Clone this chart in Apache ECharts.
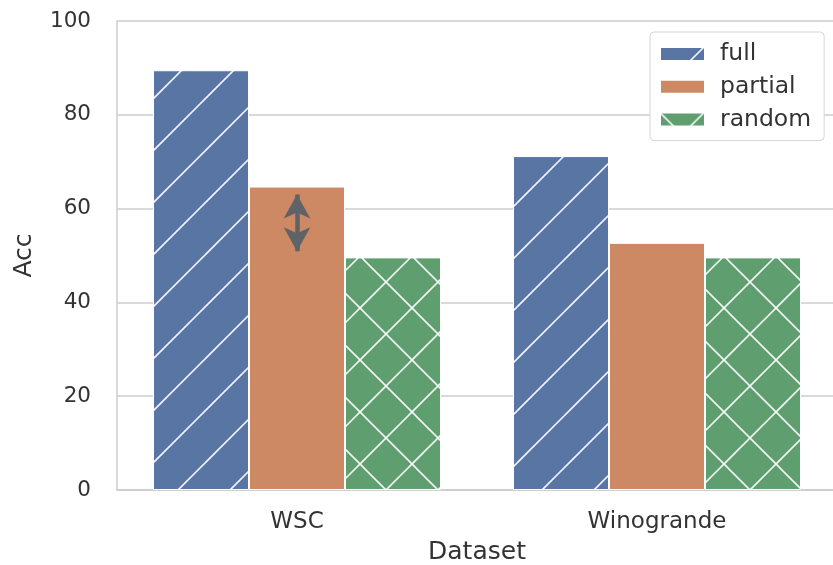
<!DOCTYPE html>
<html>
<head>
<meta charset="utf-8">
<script src="https://cdn.jsdelivr.net/npm/echarts@6/dist/echarts.min.js"></script>
<style>html,body{margin:0;padding:0;background:#fff;}#c{width:833px;height:565px;}</style>
</head>
<body>
<div id="c"></div>
<script>
var categories = ['WSC', 'Winogrande'];
var seriesNames = ['full', 'partial', 'random'];
var fullVals = [89.5, 71.2];
var partialVals = [64.7, 52.7];
var randomVals = [49.6, 49.6];
var yTicks = [0, 20, 40, 60, 80, 100];
var arrowRange = [63.0, 50.9]; // double-headed arrow on WSC partial

var FONT = 'DejaVu Sans';
var TXT = '#333333';

function makePattern(base, kind) {
  var s = 52;
  var c = document.createElement('canvas');
  c.width = s; c.height = s;
  var g = c.getContext('2d');
  g.fillStyle = base;
  g.fillRect(0, 0, s, s);
  g.strokeStyle = 'rgba(255,255,255,0.92)';
  g.lineWidth = 1.6;
  var k, off;
  if (kind === '/' || kind === 'x') {
    for (k = -1; k <= 2; k++) {
      off = 44 + s * k;
      g.beginPath(); g.moveTo(off + 20, -20); g.lineTo(-20, off + 20); g.stroke();
    }
  }
  if (kind === 'x') {
    for (k = -2; k <= 1; k++) {
      off = s * k;
      g.beginPath(); g.moveTo(off - 20, -20); g.lineTo(off + s + 20, s + 20); g.stroke();
    }
  }
  return { image: c, repeat: 'repeat' };
}

var colors = ['#5975a4', '#cc8963', '#5f9e6e'];
var pats = [makePattern(colors[0], '/'), colors[1], makePattern(colors[2], 'x')];
var valsList = [fullVals, partialVals, randomVals];

var chart = echarts.init(document.getElementById('c'), null, { renderer: 'canvas' });

var series = seriesNames.map(function (n, i) {
  var s = {
    name: n,
    type: 'bar',
    data: valsList[i],
    barGap: '0%',
    barCategoryGap: '20%',
    itemStyle: { color: pats[i], borderColor: '#ffffff', borderWidth: 1 },
    emphasis: { disabled: true }
  };
  if (n === 'partial') {
    s.markLine = {
      silent: true,
      symbol: ['arrow', 'arrow'],
      symbolSize: [20, 24],
      label: { show: false },
      lineStyle: { color: '#5f6266', width: 4.5, type: 'solid' },
      data: [[{ coord: [categories[0], arrowRange[0]] }, { coord: [categories[0], arrowRange[1]] }]]
    };
  }
  return s;
});

chart.setOption({
  animation: false,
  backgroundColor: '#ffffff',
  grid: { left: 117, top: 21, bottom: 75, right: -4, containLabel: false, outerBoundsMode: 'none' },
  legend: {
    orient: 'vertical',
    left: 650, top: 32,
    data: seriesNames,
    itemWidth: 45, itemHeight: 14, itemGap: 8.8,
    padding: [10, 13, 9, 9],
    backgroundColor: '#ffffff',
    borderColor: '#d5d5d5', borderWidth: 1, borderRadius: 4,
    icon: 'rect',
    textStyle: { fontFamily: FONT, fontSize: 23.5, color: TXT, lineHeight: 24, padding: [0, 0, 0, 10] },
    selectedMode: false
  },
  xAxis: {
    type: 'category',
    data: categories,
    name: 'Dataset',
    nameLocation: 'middle',
    nameGap: 50,
    nameTextStyle: { fontFamily: FONT, fontSize: 25, color: TXT },
    axisLine: { show: true, lineStyle: { color: '#cccccc', width: 1.5 } },
    axisTick: { show: false },
    axisLabel: { fontFamily: FONT, fontSize: 23, color: TXT, margin: 21 },
    splitLine: { show: false }
  },
  yAxis: {
    type: 'value',
    min: yTicks[0], max: yTicks[yTicks.length - 1], interval: 20,
    name: 'Acc',
    nameLocation: 'middle',
    nameGap: 80,
    nameTextStyle: { fontFamily: FONT, fontSize: 25, color: TXT },
    axisLine: { show: true, lineStyle: { color: '#cccccc', width: 1.5 } },
    axisTick: { show: false },
    axisLabel: { fontFamily: FONT, fontSize: 21.5, color: TXT, margin: 26 },
    splitLine: { show: true, lineStyle: { color: '#cccccc', width: 1.5 } }
  },
  series: series
});
</script>
</body>
</html>
